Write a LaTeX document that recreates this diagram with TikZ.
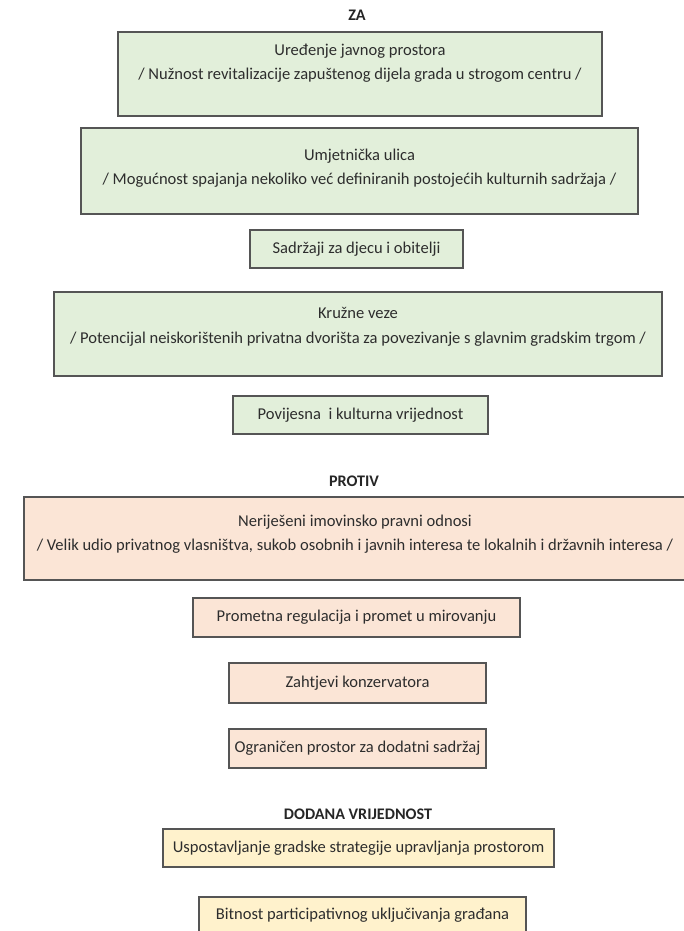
\documentclass[tikz,border=0pt]{standalone}
\usepackage{fontspec}
\setmainfont{Carlito}
\definecolor{zafill}{RGB}{226,239,218}
\definecolor{protivfill}{RGB}{251,229,214}
\definecolor{dodanafill}{RGB}{255,242,204}
\definecolor{boxline}{RGB}{85,85,85}
\definecolor{txt}{RGB}{45,45,45}
\tikzset{
  box/.style={draw=boxline, line width=1.3bp, inner sep=0pt, outer sep=0pt, text=txt,
    font=\fontsize{16.6}{25}\selectfont, align=center},
  zabox/.style={box, fill=zafill},
  prbox/.style={box, fill=protivfill},
  dvbox/.style={box, fill=dodanafill},
  plain/.style={inner sep=0pt, text=txt, font=\fontsize{16.6}{24.5}\selectfont, align=center},
  head/.style={inner sep=0pt, text=black!85, font=\fontsize{16.2}{18}\selectfont\bfseries}
}
\begin{document}
\begin{tikzpicture}[x=1bp, y=-1bp]
\useasboundingbox[fill=white] (0,0) rectangle (684,931);

\node[head] (za) at (357,15) {ZA};

\node[zabox, minimum width=484bp, minimum height=84bp] (b1) at (360,74) {};
\node[plain] (b1t) at (360,63) {Uređenje javnog prostora\\/ Nužnost revitalizacije zapuštenog dijela grada u strogom centru /};

\node[zabox, minimum width=557bp, minimum height=86bp] (b2) at (359.5,171) {};
\node[plain] (b2t) at (359.5,168) {Umjetnička ulica\\/ Mogućnost spajanja nekoliko već definiranih postojećih kulturnih sadržaja /};

\node[zabox, minimum width=213bp, minimum height=38bp] (b3) at (356.5,249) {Sadržaji za djecu i obitelji};

\node[zabox, minimum width=608bp, minimum height=84bp] (b4) at (358,334) {};
\node[plain] (b4t) at (358,327) {Kružne veze\\/ Potencijal neiskorištenih privatna dvorišta za povezivanje s glavnim gradskim trgom /};

\node[zabox, minimum width=255bp, minimum height=38bp] (b5) at (360.5,415) {Povijesna\ \ i kulturna vrijednost};

\node[head] (protiv) at (354,481) {PROTIV};

\node[prbox, minimum width=662bp, minimum height=83bp] (b6) at (355,538.5) {};
\node[plain] (b6t) at (355,534) {Neriješeni imovinsko pravni odnosi\\/ Velik udio privatnog vlasništva, sukob osobnih i javnih interesa te lokalnih i državnih interesa /};

\node[prbox, minimum width=327bp, minimum height=39bp] (b7) at (356.5,617.5) {Prometna regulacija i promet u mirovanju};
\node[prbox, minimum width=257bp, minimum height=40bp] (b8) at (357.5,683) {Zahtjevi konzervatora};
\node[prbox, minimum width=257bp, minimum height=39bp] (b9) at (357.5,748.5) {Ograničen prostor za dodatni sadržaj};

\node[head] (dodana) at (358,814) {DODANA VRIJEDNOST};

\node[dvbox, minimum width=391bp, minimum height=38bp] (b10) at (358.5,848) {Uspostavljanje gradske strategije upravljanja prostorom};
\node[dvbox, minimum width=327bp, minimum height=36bp] (b11) at (362.5,915) {Bitnost participativnog uključivanja građana};
\end{tikzpicture}
\end{document}
